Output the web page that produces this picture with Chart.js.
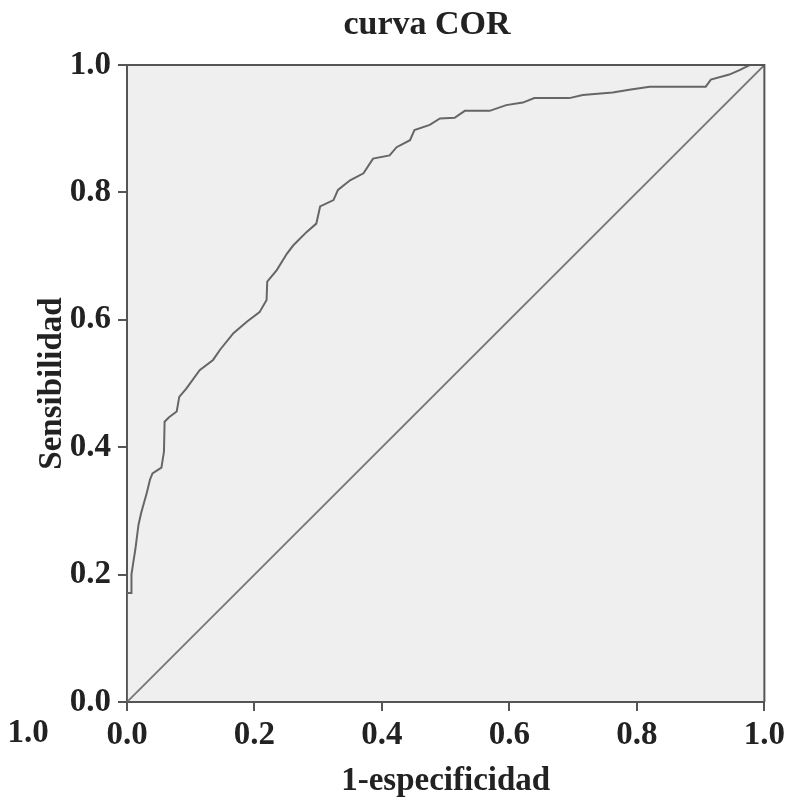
<!DOCTYPE html>
<html>
<head>
<meta charset="utf-8">
<script src="https://cdn.jsdelivr.net/npm/chart.js@4.4.1/dist/chart.umd.min.js"></script>
<style>
  html, body { margin: 0; padding: 0; background: #fff; }
  #wrap { width: 790px; height: 803px; }
</style>
</head>
<body>
<div id="wrap"><canvas id="roc"></canvas></div>
<script>
const fpr = [0, 0, 0.007, 0.007, 0.010, 0.013, 0.018, 0.022, 0.025, 0.031, 0.036, 0.040, 0.054, 0.058, 0.059,
  0.066, 0.078, 0.082, 0.093, 0.114, 0.135, 0.146, 0.167, 0.188, 0.208, 0.219, 0.220, 0.235, 0.251, 0.261,
  0.282, 0.297, 0.303, 0.324, 0.331, 0.350, 0.371, 0.386, 0.412, 0.423, 0.444, 0.451, 0.475, 0.491, 0.514,
  0.530, 0.569, 0.595, 0.621, 0.639, 0.694, 0.715, 0.762, 0.788, 0.820, 0.908, 0.916, 0.945, 0.961, 0.977, 1.0];
const sens = [0, 0.171, 0.171, 0.200, 0.220, 0.239, 0.278, 0.296, 0.307, 0.328, 0.349, 0.359, 0.368, 0.393, 0.440,
  0.447, 0.456, 0.479, 0.492, 0.521, 0.537, 0.553, 0.579, 0.597, 0.612, 0.631, 0.660, 0.678, 0.704, 0.717,
  0.738, 0.751, 0.778, 0.788, 0.804, 0.819, 0.830, 0.853, 0.858, 0.871, 0.882, 0.898, 0.906, 0.916, 0.917,
  0.928, 0.928, 0.937, 0.941, 0.948, 0.948, 0.953, 0.957, 0.961, 0.966, 0.966, 0.977, 0.985, 0.992, 1.0, 1.0];
const diagX = [0, 1];
const diagY = [0, 1];
const tickValues = [0, 0.2, 0.4, 0.6, 0.8, 1.0];

const chartTitle = 'curva COR';
const xTitle = '1-especificidad';
const yTitle = 'Sensibilidad';
const strayLabel = '1.0';

const FONT = "'Liberation Serif', 'Times New Roman', serif";

const toPoints = (xs, ys) => xs.map((x, i) => ({ x: x, y: ys[i] }));

const plotBox = {
  id: 'plotBox',
  beforeDraw(chart) {
    const { ctx, chartArea: a } = chart;
    ctx.save();
    ctx.fillStyle = '#ffffff';
    ctx.fillRect(0, 0, chart.width, chart.height);
    ctx.fillStyle = '#efefef';
    ctx.fillRect(a.left, a.top, a.right - a.left, a.bottom - a.top);
    ctx.restore();
  },
  afterDraw(chart) {
    const { ctx, chartArea: a } = chart;
    ctx.save();
    ctx.strokeStyle = '#555';
    ctx.lineWidth = 2;
    ctx.beginPath();
    ctx.moveTo(a.left, a.top);
    ctx.lineTo(a.right, a.top);
    ctx.lineTo(a.right, a.bottom);
    ctx.stroke();
    // title and the stray label of the original
    ctx.fillStyle = '#222';
    ctx.textAlign = 'center';
    ctx.textBaseline = 'middle';
    ctx.font = 'bold 34px ' + FONT;
    ctx.fillText(chartTitle, 427, 25);
    ctx.font = 'bold 33px ' + FONT;
    ctx.fillText(strayLabel, 28, 733);
    ctx.restore();
  }
};

const axisCommon = {
  type: 'linear',
  min: 0,
  max: 1,
  afterBuildTicks: (scale) => { scale.ticks = tickValues.map(v => ({ value: v })); },
  grid: { drawOnChartArea: false, drawTicks: true, tickLength: 9, color: '#555', lineWidth: 2 },
  border: { display: true, color: '#555', width: 2 },
  ticks: {
    color: '#222',
    font: { family: FONT, size: 33, weight: 'bold' },
    callback: (v) => Number(v).toFixed(1),
    autoSkip: false,
    maxRotation: 0
  },
  title: {
    display: true,
    color: '#222',
    font: { family: FONT, size: 33, weight: 'bold', lineHeight: 1 },
    padding: { top: 4, bottom: 4 }
  }
};

new Chart(document.getElementById('roc'), {
  type: 'line',
  data: {
    datasets: [
      {
        label: 'curva',
        data: toPoints(fpr, sens),
        borderColor: '#666',
        borderWidth: 2,
        pointRadius: 0,
        tension: 0,
        fill: false
      },
      {
        label: 'referencia',
        data: toPoints(diagX, diagY),
        borderColor: '#777',
        borderWidth: 1.8,
        pointRadius: 0,
        fill: false
      }
    ]
  },
  options: {
    responsive: true,
    maintainAspectRatio: false,
    animation: false,
    layout: { padding: { left: 32, right: 25, top: 65, bottom: 1 } },
    scales: {
      x: Object.assign({}, axisCommon, {
        position: 'bottom',
        ticks: Object.assign({}, axisCommon.ticks, { padding: 5 }),
        title: Object.assign({}, axisCommon.title, { text: xTitle }),
        afterFit: (scale) => { scale.height = 100; }
      }),
      y: Object.assign({}, axisCommon, {
        position: 'left',
        ticks: Object.assign({}, axisCommon.ticks, { padding: 7 }),
        title: Object.assign({}, axisCommon.title, { text: yTitle }),
        afterFit: (scale) => { scale.width = 95; }
      })
    },
    plugins: {
      legend: { display: false },
      tooltip: { enabled: false }
    }
  },
  plugins: [plotBox]
});
</script>
</body>
</html>
